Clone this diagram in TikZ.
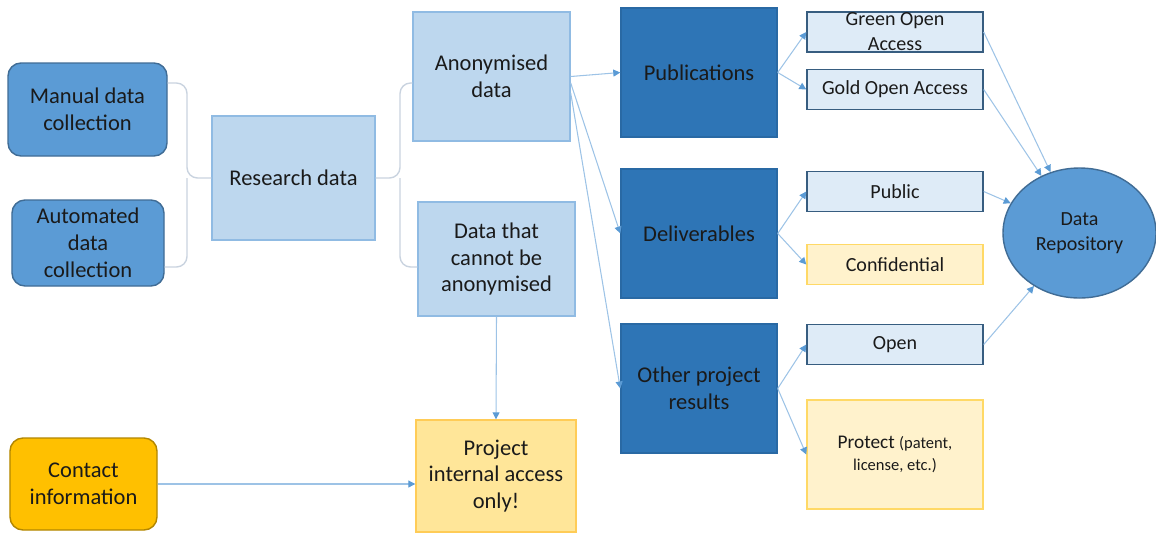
\documentclass[tikz,border=0pt]{standalone}
\usepackage{fontspec}
\setmainfont{Carlito}
\usetikzlibrary{arrows.meta,shapes.geometric}
\definecolor{darkblue}{HTML}{2E75B6}
\definecolor{midblue}{HTML}{5B9BD5}
\definecolor{lightblue}{HTML}{BDD7EE}
\definecolor{paleblue}{HTML}{DEEBF7}
\definecolor{lineblue}{HTML}{9DC3E6}
\definecolor{paleyellow}{HTML}{FFF2CC}
\definecolor{yellowline}{HTML}{FFD966}
\definecolor{softgold}{HTML}{FFE699}
\definecolor{deepgold}{HTML}{FFC000}
\definecolor{braceline}{HTML}{C9D3DF}
\definecolor{txt}{HTML}{1A1A1A}
\begin{document}
\begin{tikzpicture}[font=\fontsize{12.8}{15.3}\selectfont, text=txt]
\useasboundingbox (0,0) rectangle (23.12,-10.64);
\tikzstyle{box} = [rectangle, align=center, inner sep=2pt, line width=0.8pt]
\tikzstyle{collectbox} = [box, rounded corners=0.26cm, fill=midblue, draw=midblue!70!black]
\tikzstyle{databox} = [box, fill=lightblue, draw=lineblue!80!midblue]
\tikzstyle{resultbox} = [box, fill=darkblue, draw=darkblue!90!black, minimum width=3.12cm, minimum height=2.58cm]
\tikzstyle{accessbox} = [box, fill=paleblue, draw=midblue!60!black, minimum width=3.52cm, minimum height=0.8cm, font=\fontsize{11.4}{14.2}\selectfont]
\tikzstyle{privbox} = [box, fill=paleyellow, draw=yellowline, minimum width=3.52cm]
\tikzstyle{arr} = [-{Triangle[length=4pt,width=4pt,color=midblue]}, draw=lineblue, line width=0.6pt]
\tikzstyle{brace} = [draw=braceline, line width=0.8pt, rounded corners=6pt]
% collection and research data
\node[collectbox, minimum width=3.18cm, minimum height=1.86cm] (man) at (1.75,-2.19) {Manual data\\collection};
\node[collectbox, minimum width=3.04cm, minimum height=1.72cm] (aut) at (1.76,-4.86) {Automated\\data\\collection};
\node[databox, minimum width=3.26cm, minimum height=2.48cm] (res) at (5.87,-3.56) {Research data};
\node[databox, minimum width=3.14cm, minimum height=2.58cm] (ano) at (9.83,-1.53) {Anonymised\\data};
\node[databox, minimum width=3.14cm, minimum height=2.28cm] (can) at (9.93,-5.18) {Data that\\cannot be\\anonymised};
% results
\node[resultbox] (pub) at (13.98,-1.45) {Publications};
\node[resultbox] (del) at (13.98,-4.67) {Deliverables};
\node[resultbox] (oth) at (13.98,-7.77) {Other project\\results};
% access
\node[accessbox, inner ysep=0pt] (green) at (17.9,-0.64) {Green Open\\Access};
\node[accessbox] (gold) at (17.9,-1.79) {Gold Open Access};
\node[accessbox] (publ) at (17.9,-3.83) {Public};
\node[privbox, minimum height=0.8cm, font=\fontsize{11.4}{14.2}\selectfont] (conf) at (17.9,-5.29) {Confidential};
\node[accessbox] (open) at (17.9,-6.89) {Open};
\node[privbox, minimum height=2.18cm, font=\fontsize{11}{12.5}\selectfont] (prot) at (17.9,-9.09) {Protect {\fontsize{9.4}{12.5}\selectfont(patent,}\\{\fontsize{9.4}{12.5}\selectfont license, etc.)}};
\node[ellipse, fill=midblue, draw=midblue!70!black, line width=0.8pt, minimum width=3.06cm, minimum height=2.6cm, align=center, font=\fontsize{11.4}{14.2}\selectfont] (repo) at (21.59,-4.66) {Data\\Repository};
% internal
\node[box, rounded corners=0.26cm, fill=deepgold, draw=deepgold!70!black, minimum width=2.94cm, minimum height=1.84cm] (con) at (1.67,-9.68) {Contact\\information};
\node[box, fill=softgold, draw=yellowline!85!orange, minimum width=3.2cm, minimum height=2.24cm] (pia) at (9.92,-9.52) {Project\\internal access\\only!};
% braces
\coordinate (lb) at (3.74,-3.56);
\coordinate (rb) at (8.0,-3.56);
\draw[brace] (man.east |- 0,-1.66) -| (lb) -- (res.west);
\draw[brace] (aut.east |- 0,-5.34) -| (lb);
\draw[brace] (res.east) -- (rb) |- (ano.west |- 0,-1.66);
\draw[brace] (rb) |- (can.west |- 0,-5.34);
% arrows
\draw[arr] (ano.east) -- (pub.west);
\draw[arr] ([yshift=-0.13cm]ano.east) -- (del.west);
\draw[arr] ([yshift=-0.33cm]ano.east) -- (oth.west);
\draw[arr] (pub.east) -- (green.west);
\draw[arr] (pub.east) -- (gold.west);
\draw[arr] (del.east) -- (publ.west);
\draw[arr] (del.east) -- (conf.west);
\draw[arr] (oth.east) -- (open.west);
\draw[arr] (oth.east) -- (prot.west);
\draw[arr] (green.east) -- (repo);
\draw[arr] (gold.east) -- (repo);
\draw[arr] (publ.east) -- (repo);
\draw[arr] (open.east) -- (repo);
\draw[arr] (can.south) -- (pia.north);
\draw[arr] (con.east) -- (con.east -| pia.west);
\end{tikzpicture}
\end{document}
